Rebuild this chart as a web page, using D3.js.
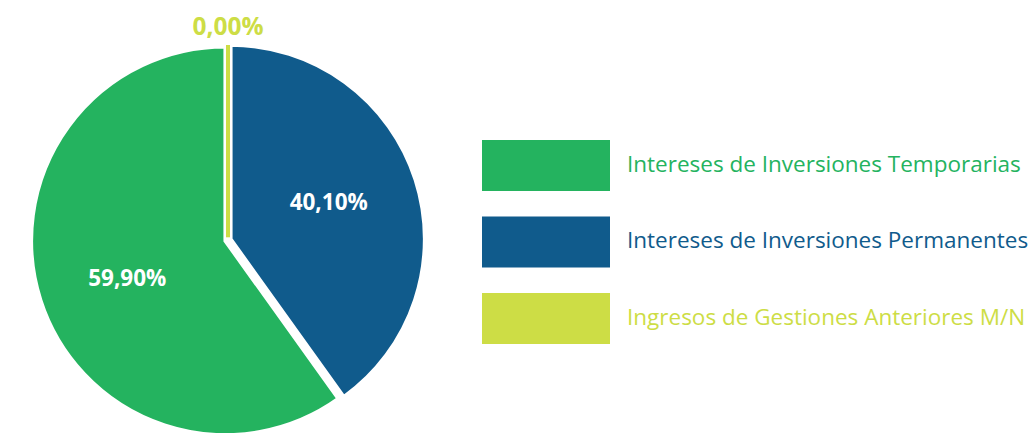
<!DOCTYPE html>
<html>
<head>
<meta charset="utf-8">
<script src="https://d3js.org/d3.v7.min.js"></script>
<style>
  body { margin: 0; background: #fff; }
  svg { display: block; }
</style>
</head>
<body>
<div id="chart"></div>
<script>
// Datos del grafico
const categorias = [
  "Intereses de Inversiones Temporarias",
  "Intereses de Inversiones Permanentes",
  "Ingresos de Gestiones Anteriores M/N"
];
const porcentajes = [59.90, 40.10, 0.00];
const colores = ["#24b35f", "#105b8c", "#cddd45"];

const width = 1036,
  height = 433;

const cx = 228, cy = 240;
const radius = 194.3;     // radio del path (incluye medio trazo blanco)
const explode = 2.7;      // separacion de cada porcion
const strokeW = 4;

const dataset = categorias.map((c, i) => ({
  name: c,
  value: porcentajes[i],
  color: colores[i]
}));

const fmt = v => d3.format(".2f")(v).replace(".", ",") + "%";

const svg = d3.select("#chart")
  .append("svg")
  .attr("width", width)
  .attr("height", height);

const g = svg.append("g")
  .attr("transform", `translate(${cx},${cy})`);

// Pie en sentido antihorario desde arriba
const pie = d3.pie()
  .sort(null)
  .value(d => d.value)
  .startAngle(0)
  .endAngle(-2 * Math.PI);

const arcs = pie(dataset);

const arc = d3.arc()
  .innerRadius(0)
  .outerRadius(radius);

const midAngle = d => (d.startAngle + d.endAngle) / 2;
const offset = d => d3.pointRadial(midAngle(d), explode);

// Porciones con valor
g.selectAll(".slice")
  .data(arcs.filter(d => d.value > 0))
  .enter()
  .append("path")
  .attr("class", "slice")
  .attr("transform", d => `translate(${offset(d)})`)
  .attr("d", arc)
  .attr("fill", d => d.data.color)
  .attr("stroke", "#fff")
  .attr("stroke-width", strokeW)
  .attr("stroke-linejoin", "miter");

// Porcion en cero: se dibuja como una linea fina
g.selectAll(".zero")
  .data(arcs.filter(d => d.value === 0))
  .enter()
  .append("line")
  .attr("class", "zero")
  .attr("transform", d => `translate(${offset(d)})`)
  .attr("x1", 0)
  .attr("y1", 0)
  .attr("x2", d => d3.pointRadial(d.startAngle, radius - strokeW / 2)[0])
  .attr("y2", d => d3.pointRadial(d.startAngle, radius - strokeW / 2)[1])
  .attr("stroke", d => d.data.color)
  .attr("stroke-width", 4);

// Etiquetas de porcentaje
const labelPos = d => {
  if (d.value > 0) {
    const p = d3.pointRadial(midAngle(d) - Math.PI / 60, 105);
    const o = offset(d);
    return [p[0] + o[0], p[1] + o[1]];
  }
  return d3.pointRadial(d.startAngle, 214);
};

g.selectAll(".pct")
  .data(arcs)
  .enter()
  .append("text")
  .attr("class", "pct")
  .attr("transform", d => `translate(${labelPos(d)})`)
  .attr("text-anchor", "middle")
  .attr("dy", "0.36em")
  .attr("font-family", "'Open Sans', sans-serif")
  .attr("font-weight", 700)
  .attr("font-size", d => d.value > 0 ? 22.5 : 24.5)
  .attr("fill", d => d.value > 0 ? "#fff" : d.data.color)
  .text(d => fmt(d.data.value));

// Leyenda
const legend = svg.append("g")
  .selectAll("g")
  .data(dataset)
  .enter().append("g")
  .attr("transform", (d, i) => `translate(482,${140 + i * 76.5})`);

legend.append("rect")
  .attr("width", 128)
  .attr("height", 51)
  .attr("fill", d => d.color);

legend.append("text")
  .attr("x", 145)
  .attr("y", 24)
  .attr("dy", "0.35em")
  .attr("font-family", "'Open Sans', sans-serif")
  .attr("font-size", 22.5)
  .attr("fill", d => d.color)
  .text(d => d.name);
</script>
</body>
</html>
